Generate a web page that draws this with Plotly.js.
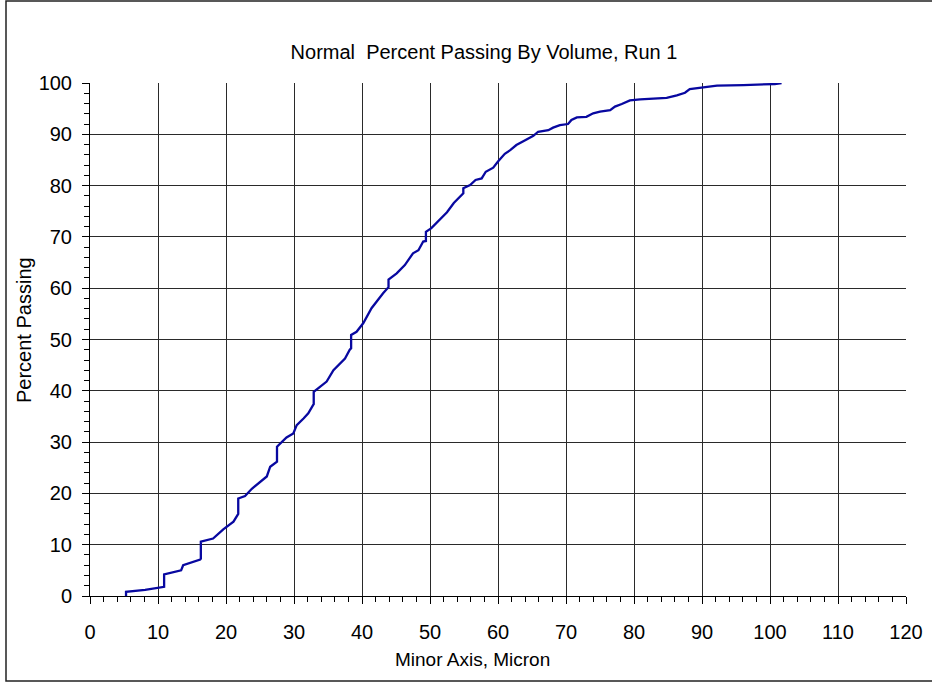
<!DOCTYPE html>
<html>
<head>
<meta charset="utf-8">
<script src="https://cdn.plot.ly/plotly-3.0.1.min.js"></script>
<style>
  html, body { margin: 0; padding: 0; background: #fff; }
  #chart { width: 932px; height: 683px; }
</style>
</head>
<body>
<div id="chart"></div>
<script>
// Cumulative percent passing (by volume) against minor-axis size, Run 1
const minorAxisMicron = [
  5.3, 5.3, 8.1, 9.8, 10.5, 10.9, 10.9, 12.7, 13.4, 13.7,
  15.7, 16.2, 16.3, 16.3, 18.1, 18.9, 19.6, 21.1, 21.6, 21.8,
  21.8, 22.8, 23.8, 24.8, 26.0, 26.5, 27.2, 27.5, 27.5, 28.2,
  28.9, 29.9, 30.4, 31.4, 32.1, 32.8, 32.9, 32.9, 33.8, 34.8,
  35.8, 36.5, 37.5, 38.2, 38.4, 38.4, 39.2, 40.2, 41.4, 43.1,
  43.7, 43.9, 43.9, 45.1, 46.3, 47.5, 48.3, 49.0, 49.4, 49.4,
  50.2, 51.2, 52.5, 53.5, 54.7, 54.9, 54.9, 55.9, 56.7, 57.6,
  58.2, 59.3, 60.0, 61.0, 61.8, 62.7, 64.2, 65.2, 65.9, 67.4,
  68.1, 69.1, 70.3, 70.8, 71.6, 73.0, 74.0, 75.0, 76.5, 77.2,
  78.2, 79.4, 80.9, 83.3, 84.8, 86.3, 87.5, 88.2, 90.2, 92.2,
  96.1, 100.0, 100.7, 101.7
];
const percentPassing = [
  0.0, 0.8, 1.2, 1.5, 1.7, 1.8, 4.2, 4.75, 5.0, 6.0,
  6.9, 7.1, 7.3, 10.6, 11.2, 12.2, 13.0, 14.5, 15.8, 16.0,
  19.0, 19.5, 20.9, 22.0, 23.3, 25.2, 25.9, 26.2, 29.1, 30.1,
  30.9, 31.7, 33.3, 34.6, 35.6, 37.2, 37.4, 39.8, 40.8, 41.8,
  44.0, 45.0, 46.3, 48.0, 48.3, 50.9, 51.5, 53.2, 56.1, 59.0,
  60.0, 60.2, 61.7, 62.9, 64.5, 66.8, 67.4, 69.1, 69.2, 71.0,
  71.7, 73.0, 74.8, 76.6, 78.2, 78.5, 79.5, 80.1, 81.1, 81.4,
  82.7, 83.5, 84.7, 86.2, 86.9, 87.9, 89.0, 89.7, 90.5, 90.8,
  91.3, 91.8, 92.0, 92.8, 93.3, 93.4, 94.1, 94.4, 94.7, 95.4,
  95.9, 96.6, 96.8, 96.9, 97.1, 97.6, 98.1, 98.8, 99.1, 99.5,
  99.6, 99.8, 99.8, 100.0
];

const chartTitle = 'Normal  Percent Passing By Volume, Run 1';
const xTitle = 'Minor Axis, Micron';
const yTitle = 'Percent Passing';

const font = 'Liberation Sans, Arial, sans-serif';

// plot area in pixels: left 90, right 906, top 83, bottom 596
const PW = 816, PH = 513;
const px = v => (v - 90) / PW;
const py = v => (596 - v) / PH;

const trace = {
  x: minorAxisMicron,
  y: percentPassing,
  type: 'scatter',
  mode: 'lines',
  line: { color: '#0808a0', width: 2.3 },
  hoverinfo: 'x+y'
};

const axisCommon = {
  showline: true,
  linecolor: '#000',
  linewidth: 1,
  mirror: false,
  showgrid: true,
  gridcolor: '#2a2a2a',
  gridwidth: 1,
  zeroline: false,
  ticks: 'outside',
  ticklen: 7,
  tickwidth: 1,
  tickcolor: '#000',
  dtick: 10,
  tick0: 0,
  tickfont: { family: font, size: 20, color: '#000' },
  minor: { dtick: 2, ticks: 'outside', ticklen: 5, tickcolor: '#000', tickwidth: 1, showgrid: false }
};

const layout = {
  width: 932,
  height: 683,
  margin: { l: 90, r: 26, t: 83, b: 87 },
  paper_bgcolor: '#fff',
  plot_bgcolor: '#fff',
  showlegend: false,
  font: { family: font, color: '#000' },
  title: {
    text: chartTitle,
    font: { family: font, size: 20, color: '#000' },
    xref: 'paper', x: px(484), xanchor: 'center',
    yref: 'container', y: 1 - 52 / 683, yanchor: 'middle'
  },
  xaxis: Object.assign({}, axisCommon, { range: [0, 120], ticklabelstandoff: 11 }),
  yaxis: Object.assign({}, axisCommon, { range: [0, 100], ticklabelstandoff: 6 }),
  annotations: [
    {
      text: xTitle, xref: 'paper', yref: 'paper',
      x: px(472), y: py(659), xanchor: 'center', yanchor: 'middle',
      showarrow: false, font: { family: font, size: 19, color: '#000' }
    },
    {
      text: yTitle, xref: 'paper', yref: 'paper', textangle: -90,
      x: px(24), y: py(330), xanchor: 'center', yanchor: 'middle',
      showarrow: false, font: { family: font, size: 20, color: '#000' }
    }
  ],
  shapes: [{
    type: 'rect', xref: 'paper', yref: 'paper',
    x0: px(6), x1: px(945), y0: py(681), y1: py(1),
    line: { color: '#222', width: 1.5 }, fillcolor: 'rgba(0,0,0,0)', layer: 'below'
  }]
};

Plotly.newPlot('chart', [trace], layout, { displayModeBar: false, staticPlot: true });
</script>
</body>
</html>
